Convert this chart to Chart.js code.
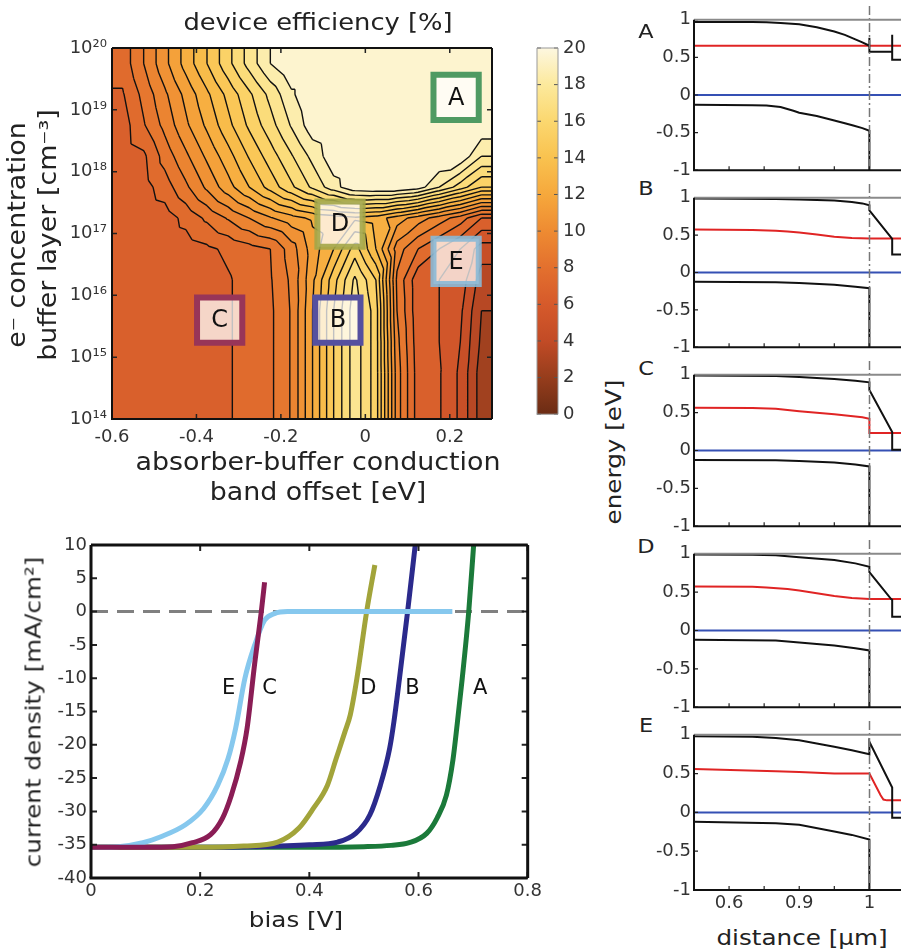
<!DOCTYPE html>
<html>
<head>
<meta charset="utf-8">
<title>device efficiency</title>
<script src="https://cdn.jsdelivr.net/npm/chart.js@4.4.1/dist/chart.umd.min.js"></script>
<style>
  html, body { margin: 0; padding: 0; background: #fff; }
  body { position: relative; width: 901px; height: 952px; overflow: hidden; font-family: "DejaVu Sans", sans-serif; }
  canvas { position: absolute; }
  .txt { position: absolute; white-space: nowrap; color: #222; transform: translate(-50%, -50%) scaleX(1.12); }
  .rot { transform: translate(-50%, -50%) rotate(-90deg) scaleX(1.12); }
</style>
</head>
<body>
<canvas id="heat" width="530" height="510" style="left:0;top:0"></canvas>
<canvas id="cbar" width="70" height="430" style="left:530px;top:0"></canvas>
<canvas id="jv" width="545" height="430" style="left:0;top:520px"></canvas>

<div class="txt" style="left:318px;top:22px;font-size:23px">device efficiency [%]</div>
<div class="txt" style="left:318px;top:462px;font-size:24px">absorber-buffer conduction</div>
<div class="txt" style="left:318px;top:492px;font-size:24px">band offset [eV]</div>
<div class="txt rot" style="left:17px;top:235px;font-size:24px">e⁻ concentration</div>
<div class="txt rot" style="left:48px;top:235px;font-size:24px">buffer layer [cm⁻³]</div>
<div class="txt rot" style="left:33px;top:712px;font-size:22px">current density [mA/cm²]</div>
<div class="txt" style="left:296px;top:919px;font-size:22px">bias [V]</div>
<div class="txt rot" style="left:613px;top:452px;font-size:22px">energy [eV]</div>
<div class="txt" style="left:802px;top:937px;font-size:22px">distance [µm]</div>
<div class="txt" style="left:646px;top:31px;font-size:20px">A</div>
<div class="txt" style="left:646px;top:188px;font-size:20px">B</div>
<div class="txt" style="left:646px;top:368px;font-size:20px">C</div>
<div class="txt" style="left:646px;top:546px;font-size:20px">D</div>
<div class="txt" style="left:646px;top:725px;font-size:20px">E</div>

<script>
// ---------- efficiency map (cell centres, values in %) ----------
const offsetRange = [-0.6, 0.3];
const logDopingRange = [14, 20];
const offsetCenters = [-0.575, -0.525, -0.475, -0.425, -0.375, -0.325, -0.275, -0.225, -0.175,
  -0.125, -0.075, -0.025, 0.025, 0.075, 0.125, 0.175, 0.225, 0.275];
const logDopingCenters = [19.75, 19.25, 18.75, 18.25, 17.75, 17.25, 16.75, 16.25, 15.75, 15.25, 14.75, 14.25];
const efficiency = [
  [7.4, 9.0, 10.7, 12.4, 14.0, 15.7, 17.4, 19.0, 20, 20, 20, 20, 20, 20, 20, 20, 20, 20],
  [6.9, 8.3, 9.8, 11.3, 12.8, 14.3, 15.8, 17.3, 18.8, 20, 20, 20, 20, 20, 20, 20, 20, 20],
  [6.5, 7.9, 9.3, 10.8, 12.2, 13.7, 15.2, 16.6, 18.1, 19.6, 20, 20, 20, 20, 20, 20, 20, 19.8],
  [6.4, 6.8, 8.4, 9.8, 11.2, 12.6, 14.1, 15.5, 16.9, 18.3, 19.7, 20, 20, 20, 20, 20, 19.8, 18.0],
  [6.3, 6.6, 7.5, 8.8, 10.2, 11.6, 13.0, 14.4, 15.8, 17.2, 18.6, 19.8, 20, 20, 19.5, 18.0, 16.5, 15.0],
  [6.3, 6.3, 6.5, 7.3, 8.2, 9.1, 10.0, 10.9, 11.6, 12.2, 12.5, 12.8, 12.5, 11.5, 10.5, 9.5, 8.5, 7.0],
  [6.3, 6.3, 6.3, 6.5, 6.8, 7.2, 7.6, 8.0, 9.5, 11.5, 13.0, 15.5, 13.0, 9.5, 8.0, 7.0, 6.0, 4.5],
  [6.3, 6.3, 6.3, 6.4, 6.5, 6.9, 7.4, 7.9, 9.2, 11.8, 14.6, 17.2, 15.0, 8.8, 6.3, 6.0, 5.6, 3.5],
  [6.3, 6.3, 6.3, 6.4, 6.5, 6.9, 7.4, 7.8, 9.1, 12.0, 15.0, 17.6, 15.5, 9.0, 6.3, 6.0, 5.2, 3.0],
  [6.3, 6.3, 6.3, 6.4, 6.5, 6.9, 7.4, 7.8, 9.1, 12.0, 15.0, 17.6, 15.5, 9.3, 6.4, 6.0, 5.0, 2.8],
  [6.3, 6.3, 6.3, 6.4, 6.5, 6.9, 7.4, 7.8, 9.1, 12.0, 15.0, 17.6, 15.5, 9.5, 6.5, 6.1, 4.8, 2.5],
  [6.3, 6.3, 6.3, 6.4, 6.5, 6.9, 7.4, 7.8, 9.1, 12.0, 15.0, 17.6, 15.5, 9.5, 6.5, 6.1, 4.8, 2.5]
];
const offsetTicks = [-0.6, -0.4, -0.2, 0, 0.2];
const dopingTicks = [1e14, 1e15, 1e16, 1e17, 1e18, 1e19, 1e20];
const cbarTicks = [0, 2, 4, 6, 8, 10, 12, 14, 16, 18, 20];
const contourLevels = [1, 2, 3, 4, 5, 6, 7, 8, 9, 10, 11, 12, 13, 14, 15, 16, 17, 18, 19];

const boxLabels = ['A', 'B', 'C', 'D', 'E'];
const boxOffset = [0.215, -0.065, -0.345, -0.06, 0.215];
const boxLogN = [19.2, 15.6, 15.6, 17.15, 16.55];
const boxColors = ['#4f9a62', '#55509f', '#983558', 'rgba(163,166,72,0.9)', 'rgba(138,185,214,0.9)'];

// ---------- J-V curves ----------
const jvBiasTicks = [0, 0.2, 0.4, 0.6, 0.8];
const jvCurrentTicks = [-40, -35, -30, -25, -20, -15, -10, -5, 0, 5, 10];
const biasA = [0, 0.1, 0.2, 0.3, 0.4, 0.5, 0.55, 0.583, 0.615, 0.634, 0.651, 0.663, 0.671, 0.68, 0.692, 0.701];
const currentA = [-35.4, -35.4, -35.4, -35.4, -35.4, -35.3, -35.1, -34.7, -33.3, -31.0, -27.6, -22.3, -16.8, -10.1, 0, 10];
const biasB = [0, 0.1, 0.2, 0.3, 0.4, 0.452, 0.485, 0.511, 0.53, 0.547, 0.555, 0.565, 0.58, 0.594];
const currentB = [-35.4, -35.4, -35.4, -35.3, -35.0, -34.6, -33.3, -30.5, -26.1, -20.6, -16.5, -10.1, 0, 10];
const biasC = [0, 0.1, 0.15, 0.186, 0.219, 0.241, 0.257, 0.274, 0.286, 0.3, 0.312, 0.318];
const currentC = [-35.4, -35.4, -35.3, -34.7, -33.5, -31.0, -27.6, -22.6, -17.5, -7.7, 0, 4.4];
const biasD = [0, 0.1, 0.2, 0.28, 0.342, 0.381, 0.407, 0.433, 0.449, 0.465, 0.475, 0.487, 0.505, 0.52];
const currentD = [-35.4, -35.4, -35.4, -35.2, -34.6, -32.5, -29.6, -26.1, -22.1, -18.1, -15.5, -10.1, 0, 7];
const biasE = [0, 0.05, 0.095, 0.128, 0.173, 0.206, 0.232, 0.251, 0.265, 0.282, 0.3, 0.318, 0.336, 0.36, 0.5, 0.662];
const currentE = [-35.4, -35.3, -34.7, -33.8, -32.0, -29.6, -26.1, -22.1, -17.5, -10.0, -5.0, -1.3, -0.3, 0, 0, 0];
const zeroBias = [0, 0.8];
const zeroCurrent = [0, 0];
const jvLabels = ['E', 'C', 'D', 'B', 'A'];
const jvLabelBias = [0.252, 0.327, 0.508, 0.589, 0.713];
const jvLabelCurrent = [-11.5, -11.5, -11.5, -11.5, -11.5];

// ---------- band diagrams [distance um, energy eV] ----------
const distanceTicks = [0.6, 0.75, 0.9, 0.95, 1, 1.05];
const distanceTickLabels = ['0.6', '', '0.9', '', '1', ''];
const energyTicks = [-1, -0.5, 0, 0.5, 1];
const interfaceUm = 1.0;
const zeroLevel = [[0.45, 0], [1.1, 0]];
const cbA = [[0.45, 0.97], [0.7, 0.97], [0.76, 0.967], [0.82, 0.958], [0.9, 0.94], [0.925, 0.9], [0.95, 0.845], [0.965, 0.8], [0.98, 0.74], [0.99, 0.7], [1.0, 0.655], [1.0, 0.76], [1.0, 0.575], [1.0325, 0.575], [1.0325, 0.8], [1.0325, 0.47], [1.1, 0.47]];
const efA = [[0.45, 0.655], [1.1, 0.655]];
const vbA = [[0.45, -0.13], [0.7, -0.135], [0.76, -0.14], [0.82, -0.16], [0.875, -0.21], [0.9, -0.235], [0.925, -0.28], [0.95, -0.34], [0.965, -0.375], [0.977, -0.405], [0.99, -0.44], [1.0, -0.475], [1.0, -1.05]];
const cbB = [[0.45, 0.99], [0.8, 0.985], [0.9, 0.978], [0.95, 0.965], [0.975, 0.945], [0.99, 0.925], [1.0, 0.9], [1.0, 0.83], [1.0325, 0.45], [1.0325, 0.24], [1.1, 0.24]];
const efB = [[0.45, 0.575], [0.7, 0.57], [0.8, 0.56], [0.85, 0.55], [0.9, 0.535], [0.925, 0.51], [0.95, 0.48], [0.975, 0.462], [1.0, 0.455], [1.1, 0.455]];
const vbB = [[0.45, -0.125], [0.8, -0.13], [0.9, -0.14], [0.95, -0.165], [0.98, -0.19], [1.0, -0.21], [1.0, -1.05]];
const cbC = [[0.45, 0.99], [0.8, 0.985], [0.9, 0.97], [0.95, 0.945], [0.98, 0.92], [1.0, 0.9], [1.0, 0.8], [1.0325, 0.245], [1.0325, 0.01], [1.1, 0.01]];
const efC = [[0.45, 0.565], [0.7, 0.56], [0.8, 0.55], [0.9, 0.52], [0.95, 0.48], [0.99, 0.44], [1.0, 0.42], [1.0, 0.23], [1.1, 0.23]];
const vbC = [[0.45, -0.125], [0.8, -0.13], [0.9, -0.14], [0.95, -0.16], [0.98, -0.185], [1.0, -0.21], [1.0, -1.05]];
const cbD = [[0.45, 0.99], [0.7, 0.988], [0.8, 0.98], [0.9, 0.955], [0.95, 0.92], [0.98, 0.875], [1.0, 0.83], [1.0, 0.76], [1.031, 0.41], [1.0325, 0.4], [1.0325, 0.18], [1.1, 0.18]];
const efD = [[0.45, 0.575], [0.7, 0.57], [0.76, 0.56], [0.85, 0.54], [0.9, 0.52], [0.925, 0.485], [0.95, 0.45], [0.975, 0.425], [1.0, 0.41], [1.1, 0.41]];
const vbD = [[0.45, -0.12], [0.8, -0.13], [0.9, -0.155], [0.95, -0.195], [0.98, -0.23], [1.0, -0.26], [1.0, -1.05]];
const cbE = [[0.45, 0.98], [0.7, 0.975], [0.8, 0.96], [0.9, 0.93], [0.95, 0.845], [0.975, 0.8], [1.0, 0.75], [1.0, 0.91], [1.0325, 0.32], [1.0325, -0.07], [1.1, -0.07]];
const efE = [[0.45, 0.56], [0.8, 0.53], [0.9, 0.52], [0.95, 0.5], [1.0, 0.5], [1.016, 0.22], [1.02, 0.165], [1.025, 0.155], [1.1, 0.155]];
const vbE = [[0.45, -0.12], [0.8, -0.14], [0.9, -0.16], [0.95, -0.245], [0.975, -0.29], [1.0, -0.35], [1.0, -1.05]];

// ---------- styling ----------
const FONT = '"DejaVu Sans", sans-serif';
const TICK_FONT = { family: FONT, size: 18 };
const TICK_COLOR = '#333';
const NO_GRID = { display: false, drawTicks: false };
Chart.defaults.font.family = FONT;

const cmapStops = [
  [0, [107, 44, 20]], [2, [150, 61, 28]], [4, [194, 75, 38]], [6, [214, 90, 43]],
  [8, [227, 112, 46]], [10, [238, 139, 50]], [12, [246, 168, 60]], [14, [249, 194, 79]],
  [16, [251, 215, 111]], [18, [252, 233, 156]], [20, [253, 247, 224]]
];
function effRgb(v) {
  for (let i = 0; i < cmapStops.length - 1; i++) {
    const [v0, c0] = cmapStops[i], [v1, c1] = cmapStops[i + 1];
    if (v <= v1 || i === cmapStops.length - 2) {
      const t = Math.max(0, Math.min(1, (v - v0) / (v1 - v0)));
      return c0.map((c, k) => Math.round(c + t * (c1[k] - c)));
    }
  }
}
// one flat colour per contour band, like a filled contour plot
const bandRgb = [0].concat(contourLevels).map(l => effRgb(l + 0.5));

const SUP = { '0': '⁰', '1': '¹', '2': '²', '3': '³', '4': '⁴', '5': '⁵', '6': '⁶', '7': '⁷', '8': '⁸', '9': '⁹', '-': '⁻' };
const sup = n => String(n).split('').map(ch => SUP[ch]).join('');

// grid padded out to the axis limits, with log(n) ascending
const gridX = [offsetRange[0], ...offsetCenters, offsetRange[1]];
const gridL = [logDopingRange[0], ...logDopingCenters.slice().reverse(), logDopingRange[1]];
const gridV = (() => {
  const rows = efficiency.slice().reverse().map(r => [r[0], ...r, r[r.length - 1]]);
  return [rows[0], ...rows, rows[rows.length - 1]];
})();

function cellIndex(arr, v) {
  let i = 0;
  while (i < arr.length - 2 && v > arr[i + 1]) i++;
  const t = Math.min(1, Math.max(0, (v - arr[i]) / (arr[i + 1] - arr[i])));
  return [i, t];
}
function effAt(off, L) {
  const [i, u] = cellIndex(gridX, off);
  const [j, w] = cellIndex(gridL, L);
  const a = gridV[j][i], b = gridV[j][i + 1], c = gridV[j + 1][i + 1], d = gridV[j + 1][i];
  return u >= w ? a + u * (b - a) + w * (c - b) : a + w * (d - a) + u * (c - d);
}

const heatFillPlugin = {
  id: 'heatFill',
  beforeDraw(chart) {
    const { ctx, chartArea: a, scales: { x, y } } = chart;
    const left = Math.round(a.left), top = Math.round(a.top);
    const w = Math.round(a.right) - left, h = Math.round(a.bottom) - top;
    const img = ctx.createImageData(w, h);
    for (let py = 0; py < h; py++) {
      const L = Math.log10(y.getValueForPixel(top + py + 0.5));
      for (let px = 0; px < w; px++) {
        const v = effAt(x.getValueForPixel(left + px + 0.5), L);
        const c = bandRgb[Math.max(0, Math.min(contourLevels.length, Math.floor(v)))];
        const k = (py * w + px) * 4;
        img.data[k] = c[0]; img.data[k + 1] = c[1]; img.data[k + 2] = c[2]; img.data[k + 3] = 255;
      }
    }
    ctx.putImageData(img, left, top);
  }
};

// contour lines: marching triangles on the same triangulation used for the fill
const contourPlugin = {
  id: 'contours',
  beforeDatasetsDraw(chart) {
    const { ctx, chartArea: a, scales: { x, y } } = chart;
    const P = (X, L) => [x.getPixelForValue(X), y.getPixelForValue(Math.pow(10, L))];
    ctx.save();
    ctx.beginPath(); ctx.rect(a.left, a.top, a.width, a.height); ctx.clip();
    ctx.strokeStyle = '#111'; ctx.lineWidth = 1.4; ctx.lineJoin = 'round';
    ctx.beginPath();
    for (let j = 0; j < gridL.length - 1; j++) {
      for (let i = 0; i < gridX.length - 1; i++) {
        const pa = [gridX[i], gridL[j], gridV[j][i]];
        const pb = [gridX[i + 1], gridL[j], gridV[j][i + 1]];
        const pc = [gridX[i + 1], gridL[j + 1], gridV[j + 1][i + 1]];
        const pd = [gridX[i], gridL[j + 1], gridV[j + 1][i]];
        for (const tri of [[pa, pb, pc], [pa, pc, pd]]) {
          for (const k of contourLevels) {
            const pts = [];
            for (let e = 0; e < 3; e++) {
              const p1 = tri[e], p2 = tri[(e + 1) % 3];
              if ((p1[2] < k) !== (p2[2] < k)) {
                const t = (k - p1[2]) / (p2[2] - p1[2]);
                pts.push(P(p1[0] + t * (p2[0] - p1[0]), p1[1] + t * (p2[1] - p1[1])));
              }
            }
            if (pts.length === 2) { ctx.moveTo(pts[0][0], pts[0][1]); ctx.lineTo(pts[1][0], pts[1][1]); }
          }
        }
      }
    }
    ctx.stroke();
    ctx.restore();
  }
};

const boxLabelPlugin = {
  id: 'boxLabels',
  afterDatasetsDraw(chart) {
    const { ctx } = chart;
    ctx.save();
    ctx.font = '24px ' + FONT; ctx.fillStyle = '#111';
    ctx.textAlign = 'center'; ctx.textBaseline = 'middle';
    chart.getDatasetMeta(0).data.forEach((pt, i) => ctx.fillText(boxLabels[i], pt.x, pt.y + 1));
    ctx.restore();
  }
};

const framePlugin = {
  id: 'frame',
  afterDraw(chart, args, o) {
    const { ctx, chartArea: a } = chart;
    ctx.save();
    ctx.lineWidth = o.tickWidth || 1.5;
    ctx.strokeStyle = o.tickColor || '#222';
    const tl = o.tick || 5;
    ctx.beginPath();
    for (const s of Object.values(chart.scales)) {
      if (!s.options.display) continue;
      for (const t of s.ticks) {
        const p = s.getPixelForValue(t.value);
        if (s.isHorizontal()) {
          ctx.moveTo(p, a.bottom); ctx.lineTo(p, a.bottom - tl);
          if (!o.noTop) { ctx.moveTo(p, a.top); ctx.lineTo(p, a.top + tl); }
        } else {
          ctx.moveTo(a.left, p); ctx.lineTo(a.left + tl, p);
          ctx.moveTo(a.right, p); ctx.lineTo(a.right - tl, p);
        }
      }
    }
    ctx.stroke();
    ctx.lineWidth = o.width || 2;
    const side = (x1, y1, x2, y2, col) => {
      ctx.strokeStyle = col; ctx.beginPath(); ctx.moveTo(x1, y1); ctx.lineTo(x2, y2); ctx.stroke();
    };
    const col = o.color || '#111';
    side(a.left, a.top, a.right, a.top, o.topColor || col);
    side(a.right, a.top, a.right, a.bottom, o.topColor || col);
    side(a.left - ctx.lineWidth / 2, a.bottom, a.right, a.bottom, col);
    side(a.left, a.top, a.left, a.bottom, col);
    ctx.restore();
  }
};

const noInteract = { responsive: false, animation: false, events: [] };

// ---------- efficiency map ----------
new Chart(document.getElementById('heat'), {
  type: 'scatter',
  data: {
    datasets: [{
      data: boxOffset.map((x, i) => ({ x, y: Math.pow(10, boxLogN[i]) })),
      pointStyle: 'rect', pointRadius: 32, pointHoverRadius: 32,
      pointBorderWidth: 6, pointBackgroundColor: 'rgba(255,255,255,0.74)',
      pointBorderColor: boxColors
    }]
  },
  options: {
    ...noInteract,
    layout: { padding: { top: 48, right: 3, left: 0, bottom: 0 } },
    plugins: { legend: { display: false }, tooltip: { enabled: false }, frame: { width: 2, tick: 5 } },
    scales: {
      x: {
        type: 'linear', min: offsetRange[0], max: offsetRange[1],
        afterBuildTicks: s => { s.ticks = offsetTicks.map(v => ({ value: v })); },
        ticks: { font: TICK_FONT, color: TICK_COLOR, padding: 8, autoSkip: false, maxRotation: 0, callback: v => String(v) },
        grid: NO_GRID, border: { display: false },
        afterFit: s => { s.height = 91; }
      },
      y: {
        type: 'logarithmic', min: Math.pow(10, logDopingRange[0]), max: Math.pow(10, logDopingRange[1]),
        afterBuildTicks: s => { s.ticks = dopingTicks.map(v => ({ value: v })); },
        ticks: { font: TICK_FONT, color: TICK_COLOR, padding: 5, autoSkip: false, callback: v => '10' + sup(Math.round(Math.log10(v))) },
        grid: NO_GRID, border: { display: false },
        afterFit: s => { s.width = 112; }
      }
    }
  },
  plugins: [heatFillPlugin, contourPlugin, boxLabelPlugin, framePlugin]
});

// ---------- colour bar ----------
const cbarPlugin = {
  id: 'cbarFill',
  beforeDatasetsDraw(chart) {
    const { ctx, chartArea: a, scales: { y } } = chart;
    const lo = cbarTicks[0], hi = cbarTicks[cbarTicks.length - 1];
    const g = ctx.createLinearGradient(0, y.getPixelForValue(lo), 0, y.getPixelForValue(hi));
    cmapStops.forEach(([v, c]) => g.addColorStop((v - lo) / (hi - lo), 'rgb(' + c.join(',') + ')'));
    ctx.save();
    ctx.fillStyle = g;
    ctx.fillRect(a.left, a.top, a.width, a.height);
    ctx.restore();
  }
};
new Chart(document.getElementById('cbar'), {
  type: 'scatter',
  data: { datasets: [{ data: [] }] },
  options: {
    ...noInteract,
    layout: { padding: { left: 7, top: 48, bottom: 11, right: 0 } },
    plugins: { legend: { display: false }, tooltip: { enabled: false }, frame: { width: 1, color: '#999', tickColor: '#555', tick: 4, tickWidth: 1 } },
    scales: {
      x: { display: false, min: 0, max: 1 },
      y: {
        position: 'right', min: cbarTicks[0], max: cbarTicks[cbarTicks.length - 1],
        afterBuildTicks: s => { s.ticks = cbarTicks.map(v => ({ value: v })); },
        ticks: { font: TICK_FONT, color: TICK_COLOR, padding: 5, autoSkip: false },
        grid: NO_GRID, border: { display: false },
        afterFit: s => { s.width = 42; }
      }
    }
  },
  plugins: [cbarPlugin, framePlugin]
});

// ---------- J-V ----------
const pairs = (xs, ys) => xs.map((v, i) => ({ x: v, y: ys[i] }));
const jvSeries = [
  { name: 'C', data: pairs(biasC, currentC), color: '#8a1d55' },
  { name: 'E', data: pairs(biasE, currentE), color: '#86c8ee' },
  { name: 'D', data: pairs(biasD, currentD), color: '#a2a43a' },
  { name: 'B', data: pairs(biasB, currentB), color: '#2b2a8c' },
  { name: 'A', data: pairs(biasA, currentA), color: '#1b7a3a' }
];
const jvLabelPlugin = {
  id: 'jvLabels',
  afterDatasetsDraw(chart) {
    const { ctx, scales: { x, y } } = chart;
    ctx.save();
    ctx.font = '21px ' + FONT; ctx.fillStyle = '#111';
    ctx.textAlign = 'center'; ctx.textBaseline = 'middle';
    jvLabels.forEach((t, i) => ctx.fillText(t, x.getPixelForValue(jvLabelBias[i]), y.getPixelForValue(jvLabelCurrent[i])));
    ctx.restore();
  }
};
new Chart(document.getElementById('jv'), {
  type: 'line',
  data: {
    datasets: jvSeries.map((s, i) => ({
      label: s.name, data: s.data, borderColor: s.color, borderWidth: 5,
      pointRadius: 0, cubicInterpolationMode: 'monotone', order: i
    })).concat([{
      label: 'zero', data: pairs(zeroBias, zeroCurrent), borderColor: '#808080', borderWidth: 3,
      borderDash: [17, 9], pointRadius: 0, order: 10
    }])
  },
  options: {
    ...noInteract,
    layout: { padding: { top: 25, right: 9, left: 0, bottom: 0 } },
    plugins: { legend: { display: false }, tooltip: { enabled: false }, frame: { width: 3, tick: 6, tickWidth: 2 } },
    scales: {
      x: {
        type: 'linear', min: jvBiasTicks[0], max: jvBiasTicks[jvBiasTicks.length - 1],
        afterBuildTicks: s => { s.ticks = jvBiasTicks.map(v => ({ value: v })); },
        ticks: { font: TICK_FONT, color: TICK_COLOR, padding: 3, autoSkip: false, maxRotation: 0, callback: v => String(v) },
        grid: NO_GRID, border: { display: false },
        afterFit: s => { s.height = 72; }
      },
      y: {
        min: jvCurrentTicks[0], max: jvCurrentTicks[jvCurrentTicks.length - 1],
        afterBuildTicks: s => { s.ticks = jvCurrentTicks.map(v => ({ value: v })); },
        ticks: { font: TICK_FONT, color: TICK_COLOR, padding: 4, autoSkip: false, callback: v => String(v) },
        grid: NO_GRID, border: { display: false },
        afterFit: s => { s.width = 91; }
      }
    }
  },
  plugins: [jvLabelPlugin, framePlugin]
});

// ---------- band diagrams ----------
// the distance axis is stretched piecewise near the absorber/buffer interface
function distPos(um) {
  if (um <= 0.9) return 1 + (um - 0.6) / 0.15;
  if (um <= 1) return 3 + (um - 0.9) / 0.05;
  return 5 + (um - 1) / 0.05;
}
const cbCurves = [cbA, cbB, cbC, cbD, cbE];
const fermiCurves = [efA, efB, efC, efD, efE];
const vbCurves = [vbA, vbB, vbC, vbD, vbE];
const panelTop = [16, 194, 371, 550, 731];
const panelBottom = [174, 350, 528, 709, 890];

const interfacePlugin = {
  id: 'interface',
  afterDatasetsDraw(chart) {
    const { ctx, scales: { x } } = chart;
    const px = Math.round(x.getPixelForValue(distPos(interfaceUm))) + 0.5;
    ctx.save();
    ctx.strokeStyle = '#777'; ctx.lineWidth = 1.5; ctx.setLineDash([9, 3, 2, 3]);
    ctx.beginPath(); ctx.moveTo(px, 0); ctx.lineTo(px, chart.chartArea.bottom); ctx.stroke();
    ctx.restore();
  }
};

function bandCurve(pts, color) {
  return {
    data: pts.map(([um, e]) => ({ x: distPos(um), y: e })),
    borderColor: color, borderWidth: 2, pointRadius: 0, tension: 0
  };
}

for (let i = 0; i < 5; i++) {
  const canvas = document.createElement('canvas');
  const top = panelTop[i] - 10;
  const height = (i < 4 ? panelTop[i + 1] - 10 : 952) - top;
  const plotH = panelBottom[i] - panelTop[i];
  canvas.width = 324; canvas.height = height;
  canvas.style.left = '600px'; canvas.style.top = top + 'px';
  document.body.appendChild(canvas);
  new Chart(canvas, {
    type: 'line',
    data: {
      datasets: [
        bandCurve(cbCurves[i], '#111'),
        bandCurve(vbCurves[i], '#111'),
        bandCurve(fermiCurves[i], '#e02424'),
        bandCurve(zeroLevel, '#3550b4')
      ]
    },
    options: {
      ...noInteract,
      layout: { padding: { top: 10, right: 2, left: 0, bottom: 0 } },
      plugins: {
        legend: { display: false }, tooltip: { enabled: false },
        frame: { width: 2, tick: 4, tickWidth: 1.2, topColor: '#8a8a8a', noTop: true }
      },
      scales: {
        x: {
          type: 'linear', min: 0, max: 6.5,
          afterBuildTicks: s => { s.ticks = distanceTicks.map(v => ({ value: distPos(v) })); },
          ticks: { display: i === 4, font: TICK_FONT, color: TICK_COLOR, padding: 3, autoSkip: false, maxRotation: 0,
                   callback: (v, idx) => distanceTickLabels[idx] },
          grid: NO_GRID, border: { display: false },
          afterFit: s => { s.height = height - 10 - plotH; }
        },
        y: {
          min: energyTicks[0], max: energyTicks[energyTicks.length - 1],
          afterBuildTicks: s => { s.ticks = energyTicks.map(v => ({ value: v })); },
          ticks: { font: TICK_FONT, color: TICK_COLOR, padding: 3, autoSkip: false, callback: v => String(v) },
          grid: NO_GRID, border: { display: false },
          afterFit: s => { s.width = 94; }
        }
      }
    },
    plugins: [interfacePlugin, framePlugin]
  });
}
</script>
</body>
</html>
